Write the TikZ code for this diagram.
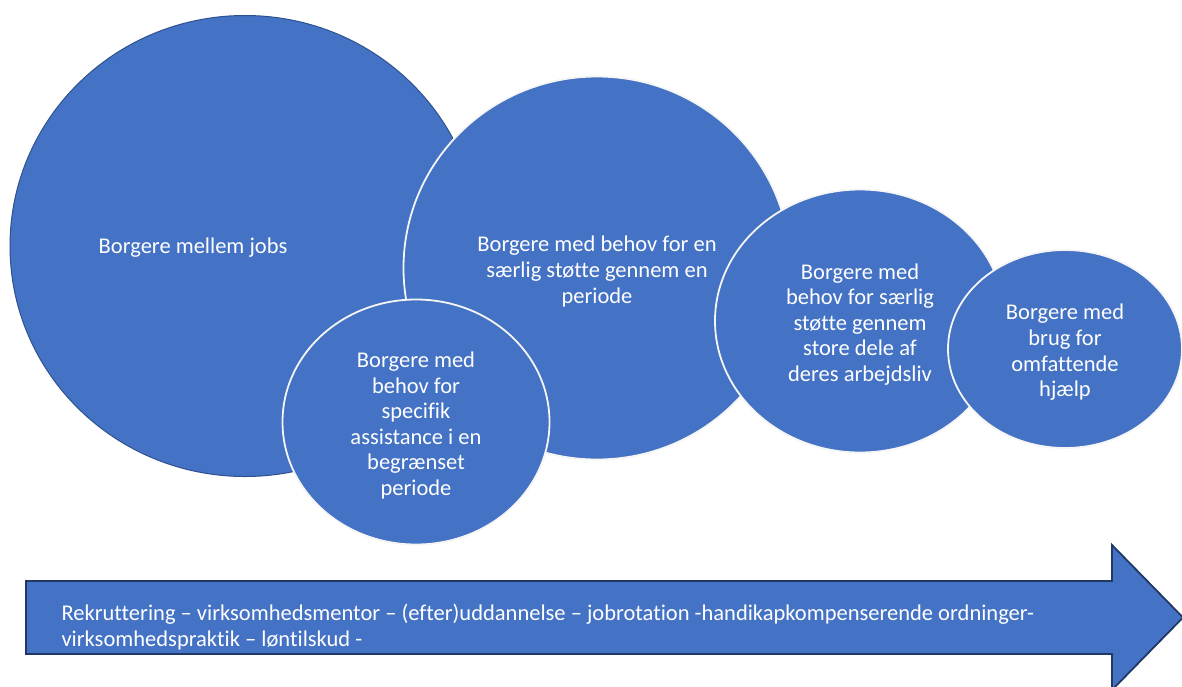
\documentclass[tikz,border=0pt]{standalone}
\usepackage{fontspec}
\setmainfont{Carlito}[Ligatures=NoCommon]
\usepackage{tikz}
\usetikzlibrary{shapes.geometric}
\definecolor{officeblue}{HTML}{4472C4}
\definecolor{darkrim}{HTML}{2F528F}
\definecolor{arrowrim}{HTML}{203864}
\tikzstyle{bubble}=[ellipse,fill=officeblue,draw=white!92!gray,line width=1.8pt,inner sep=0pt]
\tikzstyle{bigbubble}=[ellipse,fill=officeblue,draw=darkrim,line width=1pt,inner sep=0pt]
\tikzstyle{bubbletext}=[text=white,font=\fontsize{22.5}{25.6}\selectfont]
\tikzstyle{band} = [fill=officeblue,draw=arrowrim,line width=1.8pt,line join=miter]

\begin{document}
\begin{tikzpicture}[x=1pt,y=-1pt]
    \useasboundingbox (0,0) rectangle (1182,686);

    % large circle at the back
    \node[bigbubble,minimum width=470pt,minimum height=461pt] (jobs) at (245,246) {};
    \node[bubbletext] (jobstext) at (193,248) {Borgere mellem jobs};

    \foreach \pos/\w/\h/\name/\txt in {{(597,268)/387/383/periode/{Borgere med behov for en\\særlig støtte gennem en\\periode}},
        {(416,422)/267/245/specifik/{Borgere med\\behov for\\specifik\\assistance i en\\begrænset\\periode}},
        {(860,321)/290/263/arbejdsliv/{Borgere med\\behov for særlig\\støtte gennem\\store dele af\\deres arbejdsliv}},
        {(1065,349)/234/198/hjaelp/{Borgere med\\brug for\\omfattende\\hjælp}}}
        \node[bubble,minimum width=\w pt,minimum height=\h pt,
            label={[bubbletext,align=center,yshift=-3.5pt]center:{\txt}}] (\name) at \pos {};

    % arrow along the bottom
    \coordinate (tail) at (26,617.5);
    \coordinate (tip) at (1183,617.5);
    \draw[band] (tail) ++(0,-36.5) -- (1112,581) -- (1112,545) -- (tip) -- (1112,690) -- (1112,654) -- (26,654) -- cycle;
    \node[bubbletext,anchor=west,align=left] (tools) at (58,627)
        {Rekruttering – virksomhedsmentor – (efter)uddannelse – jobrotation -handikapkompenserende ordninger-\\virksomhedspraktik – løntilskud -};
\end{tikzpicture}
\end{document}
